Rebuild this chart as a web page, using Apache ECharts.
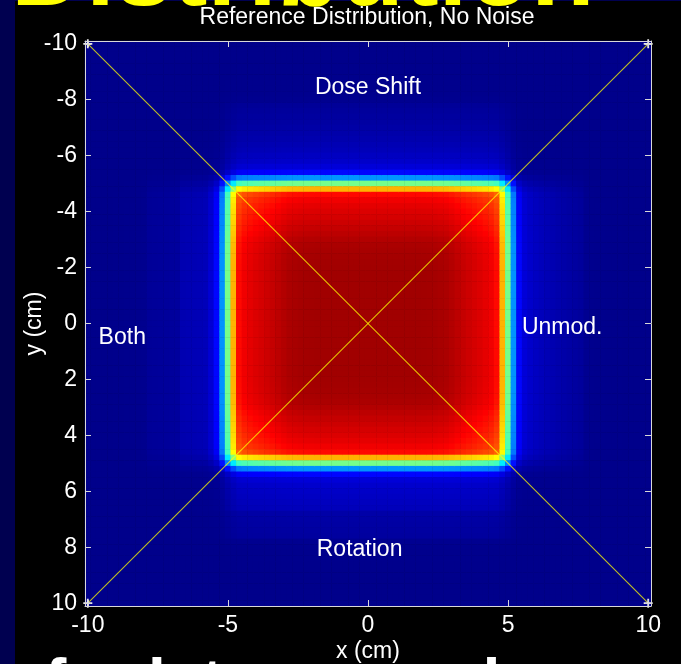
<!DOCTYPE html>
<html>
<head>
<meta charset="utf-8">
<script src="https://cdn.jsdelivr.net/npm/echarts@6/dist/echarts.min.js"></script>
<style>
html,body{margin:0;padding:0;background:#000050;}
#chart{width:681px;height:664px;}
</style>
</head>
<body>
<div id="chart"></div>
<script>
// ---- axes / ticks ----
const xTickValues = [-10, -5, 0, 5, 10];
const yTickValues = [-10, -8, -6, -4, -2, 0, 2, 4, 6, 8, 10];
const cellStepCm = 0.2;
const cellCount = 101;
const cellCentersCm = Array.from({length: cellCount}, (_, k) => +(-10 + k * cellStepCm).toFixed(1));

// ---- dose profiles (percent), distance from centre 0.0,0.2,... cm ----
// inside the field (d = 0.0 .. 5.0 cm)
const inFieldProfile = [100, 100, 100, 100, 100, 100, 100, 100, 100, 100, 99.9, 99.8, 99.6, 99.3, 99.0, 98.2, 97.2, 96.3, 95.5, 94.7, 93.9, 93.0, 91.8, 89.5, 72, 50];
// outside the field (d = 5.2 .. 10.0 cm), one per labelled quadrant
const doseShiftTail = [27, 12.5, 8, 6.5, 5.6, 4.8, 4.2, 3.6, 3.2, 2.8, 2.4, 2.1, 1.8, 1.4, 0.5, 0.3, 0.2, 0.2, 0.1, 0.1, 0.1, 0, 0, 0, 0];
const unmodTail     = [27, 12.5, 8, 6.6, 5.7, 5.0, 4.4, 3.9, 3.4, 3.0, 2.6, 2.2, 1.8, 0.6, 0.3, 0.2, 0.2, 0.1, 0.1, 0.1, 0, 0, 0, 0, 0];
const rotationTail  = [27, 12.5, 8, 6.8, 6.2, 5.8, 5.4, 5.0, 3.0, 2.7, 2.5, 2.3, 2.1, 0.6, 0.3, 0.2, 0.2, 0.1, 0.1, 0.1, 0, 0, 0, 0, 0];
const bothTail      = [27, 12.5, 7.5, 4.8, 4.5, 4.3, 4.1, 3.9, 1.9, 1.8, 1.7, 1.6, 1.5, 1.4, 0.4, 0.3, 0.2, 0.2, 0.1, 0.1, 0, 0, 0, 0, 0];
const backgroundDose = 1.1;
const colourScaleMax = 104.5;

// ---- region labels ----
const regionNames = ['Dose Shift', 'Unmod.', 'Rotation', 'Both'];
const regionX = [0, 6.93, -0.3, -8.77];
const regionY = [-8.43, 0.15, 8.07, 0.5];

// ---- diagonals ----
const diagonalA = [[-10, -10], [10, 10]];
const diagonalB = [[-10, 10], [10, -10]];

const jet = ['#000080', '#0000ff', '#0080ff', '#00ffff', '#80ff80', '#ffff00', '#ff8000', '#ff0000', '#800000'];

function profileAt(tail, k) {
  return k < inFieldProfile.length ? inFieldProfile[k] : tail[k - inFieldProfile.length];
}
const mid = (cellCount - 1) / 2;
const heatmapData = [];
for (let i = 0; i < cellCount; i++) {
  for (let j = 0; j < cellCount; j++) {
    const ki = Math.abs(i - mid), kj = Math.abs(j - mid);
    let tail;
    if (kj >= ki) tail = j < mid ? doseShiftTail : rotationTail;
    else tail = i > mid ? unmodTail : bothTail;
    const v = backgroundDose + profileAt(tail, ki) * profileAt(tail, kj) / 100;
    heatmapData.push([i, j, +v.toFixed(3)]);
  }
}

const font = '"Liberation Sans", Arial, Helvetica, sans-serif';
const axisColor = '#d8d8d8';
const plusPath = 'path://M4,0h2v10h-2z M0,4h10v2h-10z';

function frameAxis(pos, ticks, withLabels, extra) {
  return Object.assign({
    type: 'value', gridIndex: 1, min: -10.1, max: 10.1, position: pos, z: 10,
    axisLine: {show: true, onZero: false, lineStyle: {color: axisColor, width: 1}},
    axisTick: {show: true, inside: true, length: 6, customValues: ticks, lineStyle: {color: axisColor, width: 1}},
    axisLabel: withLabels ? {show: true, customValues: ticks, color: '#ffffff', fontSize: 23, fontFamily: font, margin: 8} : {show: false},
    splitLine: {show: false}
  }, extra || {});
}

const diagStyle = {color: '#ffff00', width: 1.1, opacity: 0.75};

const staticGraphics = [
  {type: 'rect', z: -100, shape: {x: 15, y: 1, width: 666, height: 663}, style: {fill: '#000000'}},
  {type: 'text', z: -50, x: 11, y: -24,
   style: {text: 'Distribution', fill: '#ffff00', font: 'bold 104px ' + font, align: 'left', verticalAlign: 'middle'}},
  {type: 'text', x: 367, y: 18,
   style: {text: 'Reference Distribution, No Noise', fill: '#ffffff', font: '23px ' + font, align: 'center', verticalAlign: 'middle'}},
  {type: 'text', x: 45, y: 686,
   style: {text: 'for latency and', fill: '#ffffff', font: 'bold 64px ' + font, align: 'left', verticalAlign: 'middle'}}
];

const gridBox = {left: 85, right: 30, top: 41, bottom: 58, outerBoundsMode: 'none', containLabel: false};

const chart = echarts.init(document.getElementById('chart'), null, {renderer: 'canvas'});
chart.setOption({
  backgroundColor: '#000050',
  animation: false,
  grid: [Object.assign({}, gridBox), Object.assign({}, gridBox)],
  xAxis: [
    {type: 'category', gridIndex: 0, data: cellCentersCm, show: false},
    frameAxis('bottom', xTickValues, true, {
      name: 'x (cm)', nameLocation: 'middle', nameGap: 34, nameMoveOverlap: false,
      nameTextStyle: {color: '#ffffff', fontSize: 23, fontFamily: font}
    }),
    frameAxis('top', xTickValues, false)
  ],
  yAxis: [
    {type: 'category', gridIndex: 0, data: cellCentersCm, inverse: true, show: false},
    frameAxis('left', yTickValues, true, {
      inverse: true, name: 'y (cm)', nameLocation: 'middle', nameGap: 39, nameRotate: 90, nameMoveOverlap: false,
      nameTextStyle: {color: '#ffffff', fontSize: 23, fontFamily: font}
    }),
    frameAxis('right', yTickValues, false, {inverse: true})
  ],
  visualMap: {
    show: false, type: 'continuous', min: 0, max: colourScaleMax, seriesIndex: 0, dimension: 2,
    inRange: {color: jet}
  },
  series: [
    {
      type: 'heatmap', xAxisIndex: 0, yAxisIndex: 0, data: heatmapData,
      progressive: 0, silent: true, itemStyle: {borderWidth: 0}
    },
    {
      type: 'line', xAxisIndex: 1, yAxisIndex: 1, data: diagonalA, z: 5, silent: true,
      symbol: plusPath, symbolSize: 9, showSymbol: true,
      itemStyle: {color: '#e8e8e8', borderWidth: 0},
      lineStyle: diagStyle, emphasis: {disabled: true}
    },
    {
      type: 'line', xAxisIndex: 1, yAxisIndex: 1, data: diagonalB, z: 5, silent: true,
      symbol: plusPath, symbolSize: 9, showSymbol: true,
      itemStyle: {color: '#e8e8e8', borderWidth: 0},
      lineStyle: diagStyle, emphasis: {disabled: true}
    }
  ],
  graphic: staticGraphics
});

// region labels placed through the value axes' scale
const labelGraphics = regionNames.map((n, k) => {
  const p = chart.convertToPixel({xAxisIndex: 1, yAxisIndex: 1}, [regionX[k], regionY[k]]);
  return {type: 'text', z: 100, x: p[0], y: p[1],
    style: {text: n, fill: '#ffffff', font: '23px ' + font, align: 'center', verticalAlign: 'middle'}};
});
chart.setOption({graphic: staticGraphics.concat(labelGraphics)}, {replaceMerge: ['graphic']});
</script>
</body>
</html>
